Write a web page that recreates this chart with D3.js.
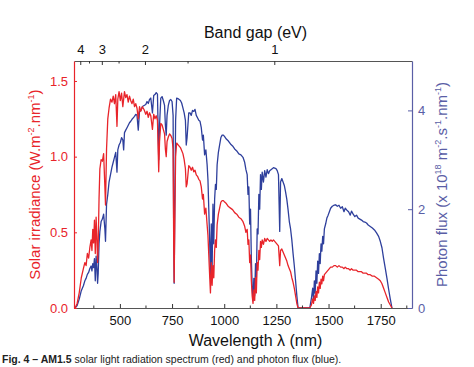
<!DOCTYPE html>
<html>
<head>
<meta charset="utf-8">
<script src="https://cdn.jsdelivr.net/npm/d3@7"></script>
<style>
  body { margin: 0; background: #fff; }
  svg { font-family: "Liberation Sans", Arial, sans-serif; display: block; }
</style>
</head>
<body>
<svg width="474" height="367"></svg>
<script>
// wavelength grid (nm)
const wavelength = [285, 295, 305, 315, 325, 332, 338, 344, 350, 356, 362, 366, 370, 374, 378, 382, 386, 390, 393, 396,
    400, 404, 410, 416, 422, 428, 431, 436, 442, 448, 455, 462, 468, 474, 480, 486, 490, 496, 502, 508,
    514, 518, 522, 528, 534, 540, 546, 552, 558, 564, 570, 576, 582, 588, 594, 600, 608, 616, 624, 630,
    636, 642, 648, 656, 662, 668, 674, 680, 686, 690, 696, 702, 708, 714, 718, 722, 726, 732, 738, 744,
    750, 755, 758, 760, 763, 767, 772, 778, 784, 790, 796, 802, 808, 814, 818, 822, 826, 830, 836, 842,
    848, 854, 860, 866, 872, 878, 884, 890, 896, 900, 906, 912, 918, 922, 926, 930, 934, 938, 942, 946,
    950, 954, 958, 962, 966, 972, 978, 984, 990, 996, 1002, 1010, 1020, 1030, 1040, 1050, 1060, 1070, 1080, 1090,
    1098, 1104, 1110, 1114, 1118, 1122, 1126, 1130, 1134, 1138, 1142, 1146, 1150, 1154, 1158, 1162, 1166, 1170, 1174, 1178,
    1182, 1188, 1194, 1200, 1206, 1212, 1218, 1224, 1230, 1236, 1242, 1248, 1254, 1260, 1266, 1270, 1276, 1282, 1288, 1294,
    1300, 1306, 1312, 1318, 1324, 1330, 1336, 1342, 1348, 1354, 1410, 1418, 1424, 1428, 1432, 1436, 1440, 1444, 1448, 1452,
    1456, 1460, 1464, 1468, 1472, 1476, 1480, 1486, 1492, 1498, 1504, 1510, 1518, 1526, 1534, 1542, 1550, 1558, 1566, 1574,
    1580, 1588, 1596, 1604, 1610, 1618, 1626, 1634, 1642, 1650, 1658, 1666, 1674, 1682, 1690, 1700, 1710, 1720, 1730, 1740,
    1748, 1756, 1764, 1772, 1780, 1788, 1796, 1804];

// solar irradiance (W.m-2.nm-1), red
const irradiance = [0.00, 0.03, 0.10, 0.20, 0.26, 0.30, 0.28, 0.36, 0.33, 0.40, 0.45, 0.38, 0.52, 0.43, 0.58, 0.36, 0.60, 0.45, 0.30, 0.42,
    0.72, 0.92, 0.98, 0.97, 1.02, 0.80, 0.68, 1.05, 1.25, 1.32, 1.38, 1.36, 1.40, 1.35, 1.41, 1.20, 1.38, 1.43, 1.37, 1.42,
    1.33, 1.38, 1.43, 1.39, 1.41, 1.36, 1.40, 1.37, 1.35, 1.38, 1.33, 1.35, 1.32, 1.25, 1.33, 1.30, 1.33, 1.31, 1.28, 1.30,
    1.26, 1.29, 1.27, 1.18, 1.28, 1.25, 1.27, 1.24, 0.90, 1.10, 1.22, 1.21, 1.18, 1.15, 1.05, 1.00, 1.10, 1.13, 1.15, 1.14,
    1.12, 1.05, 0.40, 0.17, 0.55, 1.00, 1.09, 1.08, 1.07, 1.06, 1.04, 1.02, 0.98, 0.92, 0.80, 0.82, 0.88, 0.94, 0.93, 0.91,
    0.93, 0.90, 0.91, 0.88, 0.87, 0.85, 0.84, 0.80, 0.72, 0.75, 0.62, 0.66, 0.55, 0.48, 0.35, 0.22, 0.10, 0.30, 0.15, 0.28,
    0.20, 0.38, 0.45, 0.40, 0.55, 0.62, 0.66, 0.70, 0.71, 0.71, 0.70, 0.69, 0.67, 0.66, 0.65, 0.63, 0.62, 0.60, 0.59, 0.57,
    0.54, 0.50, 0.52, 0.42, 0.45, 0.30, 0.35, 0.18, 0.08, 0.03, 0.12, 0.05, 0.20, 0.10, 0.30, 0.25, 0.38, 0.32, 0.44, 0.40,
    0.45, 0.42, 0.46, 0.44, 0.46, 0.45, 0.44, 0.45, 0.44, 0.45, 0.44, 0.43, 0.42, 0.41, 0.28, 0.38, 0.39, 0.37, 0.35, 0.33,
    0.31, 0.28, 0.26, 0.24, 0.20, 0.17, 0.13, 0.08, 0.03, 0.00, 0.00, 0.02, 0.06, 0.03, 0.08, 0.05, 0.11, 0.07, 0.14, 0.10,
    0.17, 0.13, 0.19, 0.16, 0.21, 0.18, 0.22, 0.23, 0.24, 0.25, 0.26, 0.27, 0.27, 0.28, 0.28, 0.27, 0.28, 0.27, 0.27, 0.26,
    0.27, 0.26, 0.26, 0.25, 0.26, 0.25, 0.25, 0.25, 0.24, 0.24, 0.24, 0.23, 0.23, 0.23, 0.22, 0.22, 0.21, 0.21, 0.20, 0.19,
    0.18, 0.16, 0.13, 0.10, 0.07, 0.04, 0.02, 0.00];

// photon flux (x 10^18 m-2.s-1.nm-1), blue
const photonFlux = [0.00, 0.05, 0.18, 0.35, 0.45, 0.55, 0.60, 0.68, 0.72, 0.80, 0.85, 0.75, 0.90, 0.82, 1.00, 0.55, 1.05, 0.80, 0.50, 0.70,
    1.30, 1.55, 1.75, 1.80, 1.90, 1.60, 1.35, 2.10, 2.30, 2.55, 2.70, 2.85, 2.95, 3.05, 3.15, 2.75, 3.20, 3.30, 3.35, 3.45,
    3.40, 3.20, 3.55, 3.60, 3.65, 3.70, 3.75, 3.78, 3.82, 3.85, 3.88, 3.92, 3.90, 3.60, 3.98, 4.00, 4.08, 4.10, 4.12, 4.18,
    4.14, 4.22, 4.25, 3.95, 4.30, 4.32, 4.36, 4.33, 3.00, 3.70, 4.25, 4.28, 4.20, 4.10, 3.70, 3.50, 3.90, 4.10, 4.20, 4.22,
    4.18, 3.90, 1.40, 0.50, 2.00, 3.80, 4.25, 4.24, 4.22, 4.20, 4.15, 4.05, 3.95, 3.80, 3.30, 3.45, 3.70, 3.95, 3.95, 3.90,
    4.00, 3.98, 4.02, 3.90, 3.85, 3.80, 3.78, 3.65, 3.40, 3.50, 3.10, 3.20, 2.90, 2.60, 2.00, 1.40, 0.60, 1.70, 0.80, 2.10,
    1.30, 2.20, 2.50, 2.40, 2.90, 3.15, 3.30, 3.45, 3.50, 3.50, 3.47, 3.42, 3.38, 3.32, 3.28, 3.22, 3.18, 3.12, 3.10, 3.05,
    2.95, 2.80, 2.70, 2.30, 2.45, 1.70, 2.00, 1.00, 0.45, 0.15, 0.60, 0.25, 0.90, 0.55, 1.60, 1.50, 2.30, 2.00, 2.70, 2.40,
    2.75, 2.55, 2.78, 2.65, 2.80, 2.72, 2.78, 2.80, 2.82, 2.84, 2.83, 2.82, 2.78, 2.70, 1.55, 2.55, 2.62, 2.55, 2.48, 2.35,
    2.20, 1.99, 1.75, 1.60, 1.38, 1.10, 0.85, 0.55, 0.25, 0.00, 0.00, 0.20, 0.40, 0.15, 0.55, 0.30, 0.75, 0.50, 0.95, 0.70,
    1.10, 0.90, 1.30, 1.15, 1.45, 1.30, 1.60, 1.70, 1.82, 1.88, 1.95, 2.02, 2.06, 2.08, 2.09, 2.06, 2.08, 2.02, 2.05, 1.95,
    2.02, 1.98, 1.95, 1.88, 1.96, 1.90, 1.85, 1.88, 1.82, 1.80, 1.78, 1.75, 1.74, 1.72, 1.68, 1.65, 1.62, 1.58, 1.52, 1.45,
    1.35, 1.22, 1.00, 0.80, 0.60, 0.38, 0.18, 0.00];

// tick values
const wlTicks = [500, 750, 1000, 1250, 1500, 1750];
const wlMinor = [375, 625, 875, 1125, 1375, 1625, 1875];
const gapTicks = [4, 3, 2, 1];
const gapMinor = [3.5, 2.5, 1.5];
const irrTicks = [0, 0.5, 1.0, 1.5];
const fluxTicks = [0, 2, 4];

const red = "#e8242a",
    blue = "#2e3f9c",
    axisBlue = "#5a5ea6";

let svg = d3.select("svg"),
    margin = {top: 61, bottom: 59, left: 74, right: 62},
    width = svg.attr("width") - margin.left - margin.right,
    height = svg.attr("height") - margin.top - margin.bottom;

let g = svg.append("g")
    .attr("transform", "translate(" + margin.left + "," + margin.top + ")");

let xScale = d3.scaleLinear().domain([280, 1900]).range([0, width]);
let yLeft = d3.scaleLinear().domain([0, 1.632]).range([height, 0]);
let yRight = d3.scaleLinear().domain([0, 5.0]).range([height, 0]);

let data = wavelength.map((w, i) => ({w: w, irr: irradiance[i], flux: photonFlux[i]}));

// curves
g.append("path")
    .datum(data)
    .attr("fill", "none")
    .attr("stroke", blue)
    .attr("stroke-width", 1.3)
    .attr("stroke-linejoin", "round")
    .attr("d", d3.line().x(d => xScale(d.w)).y(d => yRight(d.flux)));

g.append("path")
    .datum(data)
    .attr("fill", "none")
    .attr("stroke", red)
    .attr("stroke-width", 1.3)
    .attr("stroke-linejoin", "round")
    .attr("d", d3.line().x(d => xScale(d.w)).y(d => yLeft(d.irr)));

// bottom axis
let xAxisBottom = g.append("g")
    .attr("transform", "translate(0," + height + ")")
    .call(d3.axisBottom(xScale).tickValues(wlTicks).tickFormat(d3.format("d"))
        .tickSize(-4).tickPadding(8).tickSizeOuter(0));
xAxisBottom.append("g").selectAll("line")
    .data(wlMinor.filter(v => v < 1900))
    .join("line")
    .attr("x1", d => xScale(d)).attr("x2", d => xScale(d))
    .attr("y1", 0).attr("y2", -2.5)
    .attr("stroke", "#333");

// top axis (band gap, eV -> nm)
let xAxisTop = g.append("g")
    .call(d3.axisTop(xScale).tickValues(gapTicks.map(e => 1240 / e)).tickSize(-4).tickPadding(7).tickSizeOuter(0)
        .tickFormat((d, i) => gapTicks[i]));
xAxisTop.append("g").selectAll("line")
    .data(gapMinor)
    .join("line")
    .attr("x1", d => xScale(1240 / d)).attr("x2", d => xScale(1240 / d))
    .attr("y1", 0).attr("y2", 2.5)
    .attr("stroke", "#333");

[xAxisBottom, xAxisTop].forEach(a => {
    a.select(".domain").attr("stroke", "#555").attr("stroke-width", 1.2);
    a.selectAll(".tick line").attr("stroke", "#333");
    a.selectAll("text").attr("font-size", "13px").attr("fill", "#111").attr("font-family", "Liberation Sans, Arial, sans-serif");
});

// left axis
let yAxisLeft = g.append("g")
    .call(d3.axisLeft(yLeft).tickValues(irrTicks).tickFormat(d3.format(".1f")).tickSize(-3).tickPadding(6).tickSizeOuter(0));
yAxisLeft.select(".domain").attr("stroke", red).attr("stroke-width", 1.2);
yAxisLeft.selectAll(".tick line").attr("stroke", red);
yAxisLeft.selectAll("text").attr("font-size", "13px").attr("fill", red).attr("font-family", "Liberation Sans, Arial, sans-serif");

// right axis
let yAxisRight = g.append("g")
    .attr("transform", "translate(" + width + ",0)")
    .call(d3.axisRight(yRight).tickValues(fluxTicks).tickFormat(d3.format("d"))
        .tickSize(-4).tickPadding(6).tickSizeOuter(0));
yAxisRight.select(".domain").attr("stroke", axisBlue).attr("stroke-width", 1.2);
yAxisRight.selectAll(".tick line").attr("stroke", axisBlue);
yAxisRight.selectAll("text").attr("font-size", "13px").attr("fill", axisBlue).attr("font-family", "Liberation Sans, Arial, sans-serif");

// axis titles
svg.append("text")
    .attr("x", margin.left + xScale(1150))
    .attr("y", 346)
    .attr("text-anchor", "middle")
    .attr("font-size", "16px")
    .attr("fill", "#111")
    .text("Wavelength λ (nm)");

svg.append("text")
    .attr("x", margin.left + xScale(1150))
    .attr("y", 38)
    .attr("text-anchor", "middle")
    .attr("font-size", "16px")
    .attr("fill", "#111")
    .text("Band gap (eV)");

let leftTitle = svg.append("text")
    .attr("transform", "translate(40," + (margin.top + height / 2) + ") rotate(-90)")
    .attr("text-anchor", "middle")
    .attr("font-size", "15px")
    .attr("fill", red);
leftTitle.append("tspan").text("Solar irradiance (W.m");
leftTitle.append("tspan").attr("font-size", "9px").attr("dy", -6).text("-2");
leftTitle.append("tspan").attr("dy", 6).text(".nm");
leftTitle.append("tspan").attr("font-size", "9px").attr("dy", -6).text("-1");
leftTitle.append("tspan").attr("dy", 6).text(")");

let rightTitle = svg.append("text")
    .attr("transform", "translate(447," + (margin.top + height / 2) + ") rotate(-90)")
    .attr("text-anchor", "middle")
    .attr("font-size", "15px")
    .attr("fill", axisBlue);
rightTitle.append("tspan").text("Photon flux (x 10");
rightTitle.append("tspan").attr("font-size", "9px").attr("dy", -6).text("18");
rightTitle.append("tspan").attr("dy", 6).text(" m");
rightTitle.append("tspan").attr("font-size", "9px").attr("dy", -6).text("-2");
rightTitle.append("tspan").attr("dy", 6).text(".s");
rightTitle.append("tspan").attr("font-size", "9px").attr("dy", -6).text("-1");
rightTitle.append("tspan").attr("dy", 6).text(".nm");
rightTitle.append("tspan").attr("font-size", "9px").attr("dy", -6).text("-1");
rightTitle.append("tspan").attr("dy", 6).text(")");

// caption at the bottom edge
let caption = svg.append("text")
    .attr("x", 2)
    .attr("y", 363)
    .attr("font-size", "10.5px")
    .attr("fill", "#222");
caption.append("tspan").attr("font-weight", "bold").text("Fig. 4 – AM1.5");
caption.append("tspan").text(" solar light radiation spectrum (red) and photon flux (blue).");
</script>
</body>
</html>
